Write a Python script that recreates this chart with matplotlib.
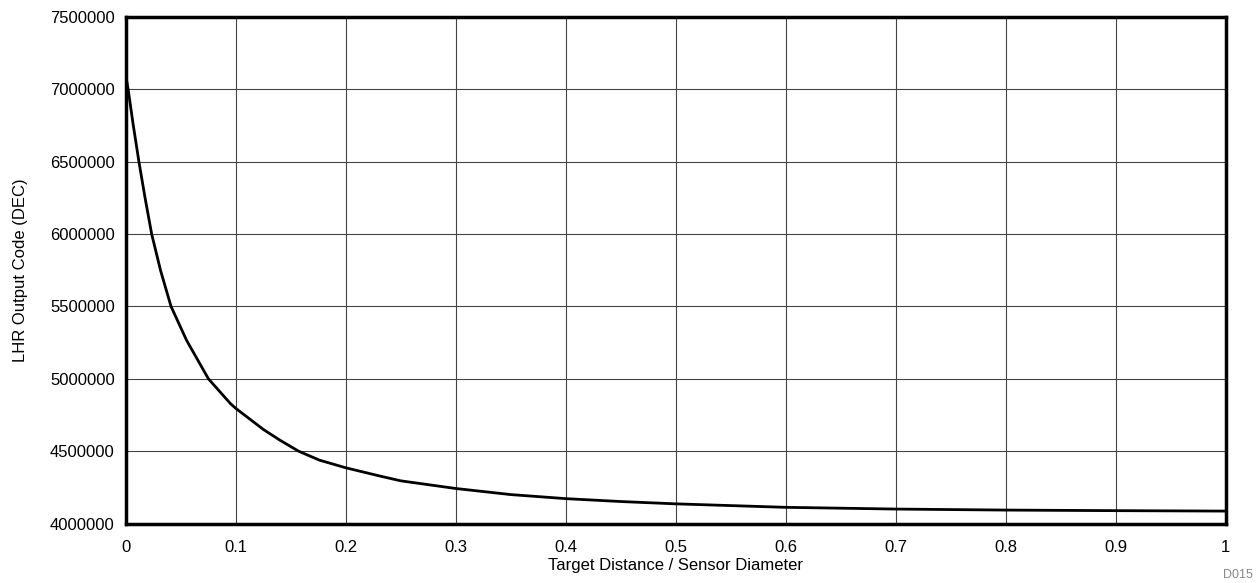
import matplotlib.pyplot as plt

plt.rcParams["font.family"] = ["Liberation Sans", "DejaVu Sans"]

# values
distance_ratio = [0.0, 0.002, 0.0065, 0.0118, 0.0173, 0.0234, 0.0315, 0.041,
                  0.0552, 0.075, 0.095, 0.1, 0.125, 0.14, 0.157, 0.176, 0.2,
                  0.231, 0.25, 0.3, 0.35, 0.4, 0.45, 0.5, 0.6, 0.7, 0.8, 0.9, 1.0]
output_code = [7090000, 7000000, 6760000, 6500000, 6254000, 6000000, 5748000,
               5500000, 5265000, 5000000, 4829000, 4795000, 4650000, 4576000,
               4500000, 4438000, 4385000, 4328000, 4295000, 4242000, 4200000,
               4172000, 4152000, 4136000, 4112000, 4100000, 4093000, 4089000,
               4086000]

x_ticks = [0, 0.1, 0.2, 0.3, 0.4, 0.5, 0.6, 0.7, 0.8, 0.9, 1]
x_tick_labels = ["0", "0.1", "0.2", "0.3", "0.4", "0.5", "0.6", "0.7", "0.8", "0.9", "1"]
y_ticks = [4000000, 4500000, 5000000, 5500000, 6000000, 6500000, 7000000, 7500000]

fig = plt.figure(figsize=(12.57, 5.83), dpi=100)
ax = fig.add_axes([0.1002, 0.102, 0.8748, 0.8688])

ax.plot(distance_ratio, output_code, color="black", linewidth=2.0,
        solid_joinstyle="round", solid_capstyle="round", zorder=3)

ax.set_xlim(0, 1)
ax.set_ylim(4000000, 7500000)
ax.set_xticks(x_ticks)
ax.set_xticklabels(x_tick_labels)
ax.set_yticks(y_ticks)
ax.set_yticklabels([str(v) for v in y_ticks])
ax.tick_params(axis="y", length=0, labelsize=12, pad=8)
ax.tick_params(axis="x", length=0, labelsize=12, pad=12)

ax.grid(True, color="#444444", linewidth=0.8)
ax.set_axisbelow(True)
for spine in ax.spines.values():
    spine.set_linewidth(2.5)
    spine.set_color("black")

ax.set_xlabel("Target Distance / Sensor Diameter", fontsize=12, labelpad=2)
ax.set_ylabel("LHR Output Code (DEC)", fontsize=12, labelpad=16)

fig.text(0.997, 0.004, "D015", color="#888888", fontsize=9, ha="right", va="bottom")

fig.savefig("out.png", dpi=100)
